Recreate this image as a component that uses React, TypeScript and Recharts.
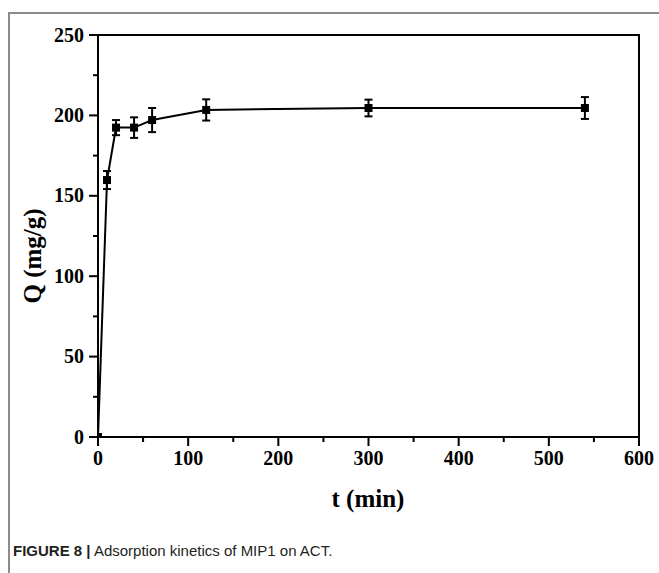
import React from "react";
import { LineChart, Line, XAxis, YAxis, ErrorBar, ReferenceArea } from "recharts";

const times = [0, 10, 20, 40, 60, 120, 300, 540];
const qValues = [0, 159.8, 192.4, 192.4, 197.1, 203.4, 204.6, 204.6];
const qErrors = [0, 5.6, 4.7, 6.4, 7.5, 6.6, 5.2, 6.8];
const xTicks = [0, 50, 100, 150, 200, 250, 300, 350, 400, 450, 500, 550, 600];
const yTicks = [0, 25, 50, 75, 100, 125, 150, 175, 200, 225, 250];

const data = times.map((t, i) => ({ t, q: qValues[i], err: qErrors[i] }));

const SERIF = "'Liberation Serif', 'Times New Roman', serif";

const XTick = (props: any) => {
  const { x, y, payload } = props;
  const v = payload.value;
  const major = v % 100 === 0;
  return (
    <g>
      <line x1={x} x2={x} y1={y} y2={y + (major ? 9 : 5)} stroke="#000" strokeWidth={2} />
      {major && (
        <text x={x} y={y + 28} textAnchor="middle" fontFamily={SERIF} fontWeight="bold" fontSize={20} fill="#000">
          {v}
        </text>
      )}
    </g>
  );
};

const YTick = (props: any) => {
  const { x, y, payload } = props;
  const v = payload.value;
  const major = v % 50 === 0;
  return (
    <g>
      <line x1={x} x2={x - (major ? 9 : 5)} y1={y} y2={y} stroke="#000" strokeWidth={2} />
      {major && (
        <text x={x - 14} y={y + 6.5} textAnchor="end" fontFamily={SERIF} fontWeight="bold" fontSize={20} fill="#000">
          {v}
        </text>
      )}
    </g>
  );
};

const SquareDot = (props: any) => {
  const { cx, cy, index } = props;
  if (cx == null || cy == null) return <g key={index} />;
  return <rect key={index} x={cx - 4} y={cy - 4} width={8} height={8} fill="#000" />;
};

export default function App() {
  return (
    <div style={{ position: "absolute", left: 0, top: 0, width: 659, height: 573, overflow: "hidden", background: "#fff" }}>
      <div
        style={{
          position: "absolute",
          left: 8,
          top: 12,
          width: 700,
          height: 620,
          borderLeft: "2px solid #8c8c8c",
          borderTop: "2px solid #8c8c8c",
        }}
      />
      <div style={{ position: "absolute", left: 0, top: 0 }}>
        <LineChart width={659} height={573} data={data} margin={{ top: 35, left: 38, right: 20, bottom: 76 }}>
          <XAxis
            dataKey="t"
            type="number"
            domain={[0, 600]}
            ticks={xTicks}
            interval={0}
            height={60}
            tickSize={0}
            tickMargin={0}
            axisLine={{ stroke: "#000", strokeWidth: 2 }}
            tickLine={false}
            tick={<XTick />}
            allowDataOverflow
          />
          <YAxis
            type="number"
            domain={[0, 250]}
            ticks={yTicks}
            interval={0}
            width={60}
            tickSize={0}
            tickMargin={0}
            axisLine={{ stroke: "#000", strokeWidth: 2 }}
            tickLine={false}
            tick={<YTick />}
            allowDataOverflow
          />
          <ReferenceArea x1={0} x2={600} y1={0} y2={250} fill="none" fillOpacity={0} stroke="#000" strokeWidth={2} />
          <Line
            dataKey="q"
            type="linear"
            stroke="#000"
            strokeWidth={2}
            dot={(p: any) => <SquareDot {...p} key={p.index} />}
            activeDot={false}
            isAnimationActive={false}
          >
            <ErrorBar dataKey="err" direction="y" width={4} stroke="#000" strokeWidth={2} isAnimationActive={false} />
          </Line>
        </LineChart>
      </div>
      <svg width={659} height={573} style={{ position: "absolute", left: 0, top: 0, pointerEvents: "none" }}>
        <text x={368} y={507} textAnchor="middle" fontFamily={SERIF} fontWeight="bold" fontSize={25} fill="#000">
          t (min)
        </text>
        <text
          transform="translate(41,256) rotate(-90)"
          textAnchor="middle"
          fontFamily={SERIF}
          fontWeight="bold"
          fontSize={25}
          fill="#000"
        >
          Q (mg/g)
        </text>
        <text x={13} y={556} fontFamily="'Liberation Sans', Arial, sans-serif" fontSize={15} fill="#231f20">
          <tspan fontWeight="bold">FIGURE 8 |</tspan> Adsorption kinetics of MIP1 on ACT.
        </text>
      </svg>
    </div>
  );
}
